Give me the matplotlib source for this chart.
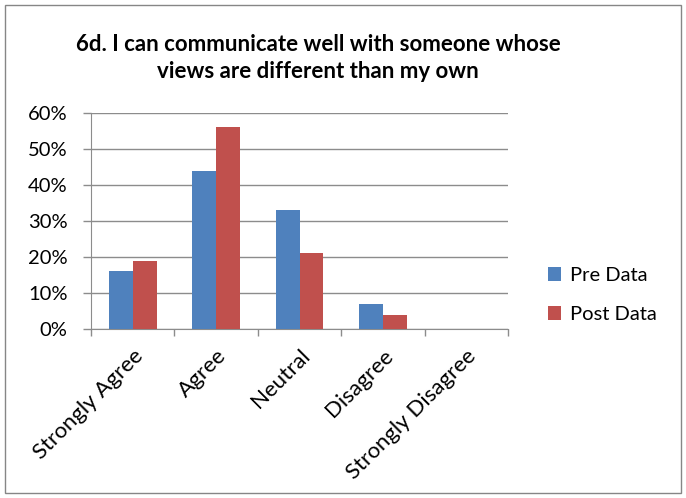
import numpy as np
import matplotlib.pyplot as plt
from matplotlib.patches import Rectangle

plt.rcParams['font.family'] = ['Lato', 'DejaVu Sans']

categories = ['Strongly Agree', 'Agree', 'Neutral', 'Disagree', 'Strongly Disagree']
pre_data = [0.16, 0.44, 0.33, 0.07, 0.0]
post_data = [0.19, 0.56, 0.21, 0.04, 0.0]
series_names = ['Pre Data', 'Post Data']
title = '6d. I can communicate well with someone whose\nviews are different than my own'

fig = plt.figure(figsize=(6.86, 4.98), dpi=100)
# outer chart border
fig.patches.append(Rectangle((5 / 686, 5 / 498), 676 / 686, 488 / 498, transform=fig.transFigure,
                             fill=False, edgecolor='#868686', linewidth=1.0))

ax = fig.add_axes([91 / 686, 1 - 329 / 498, 417 / 686, 216 / 498])

x = np.arange(len(categories))
w = 1 / 3.5
ax.bar(x - w / 2, pre_data, w, color='#4F81BD', label=series_names[0], zorder=3)
ax.bar(x + w / 2, post_data, w, color='#C0504D', label=series_names[1], zorder=3)

ax.set_xlim(-0.5, len(categories) - 0.5)
ax.set_ylim(0, 0.6)
yt = np.arange(0, 0.61, 0.1)
ax.set_yticks(yt)
ax.set_yticklabels([f'{int(round(v * 100))}%' for v in yt], fontsize=14.5)
ax.yaxis.grid(True, color='#8c8c8c', linewidth=1.0, zorder=0)
ax.set_axisbelow(True)

ax.set_xticks(x)
ax.set_xticklabels(categories, rotation=45, ha='right', rotation_mode='anchor', fontsize=16)
ax.set_xticks(np.arange(-0.5, len(categories)), minor=True)
ax.tick_params(axis='x', which='major', length=0, pad=12)
ax.tick_params(axis='x', which='minor', length=5, color='#8c8c8c', width=1)
ax.tick_params(axis='y', length=6, color='#8c8c8c', width=1, pad=11)

for s in ['top', 'right']:
    ax.spines[s].set_visible(False)
ax.spines['left'].set_color('#8c8c8c')
ax.spines['bottom'].set_color('#8c8c8c')

fig.text(318 / 686, 1 - 58 / 498, title, ha='center', va='center', fontsize=16,
         fontweight='bold', linespacing=1.35)

fig.legend(loc='center left', bbox_to_anchor=(530 / 686, 1 - 295 / 498), frameon=False,
           fontsize=14.5, handlelength=0.65, handleheight=0.65, labelspacing=1.1, handletextpad=0.45)

fig.savefig('out.png', dpi=100)
